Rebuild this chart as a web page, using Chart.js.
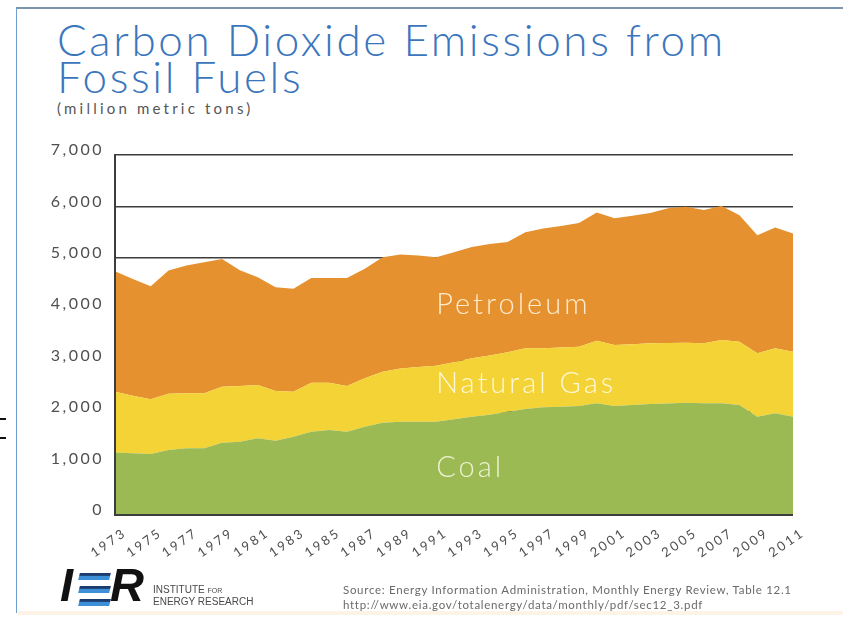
<!DOCTYPE html>
<html>
<head>
<meta charset="utf-8">
<title>Carbon Dioxide Emissions from Fossil Fuels</title>
<script src="https://cdn.jsdelivr.net/npm/chart.js@4.4.1/dist/chart.umd.min.js"></script>
<style>
  html, body { margin: 0; padding: 0; background: #fff; }
  body { width: 843px; height: 620px; position: relative; overflow: hidden; font-family: Lato, "Open Sans", sans-serif; }
  #frame { position: absolute; left: 16px; top: 7px; width: 826px; height: 604px;
           border-left: 1.5px solid #6f9fd0; border-top: 2px solid #7d96ad; border-right: 1px solid #e4eef6; }
  #foot-band { position: absolute; left: 18px; top: 611px; width: 825px; height: 4px; background: #fdf3e6; }
  #chart { position: absolute; left: 0; top: 0; }
  .title { position: absolute; left: 57px; color: #3b76bd; font-weight: 300; font-size: 44px; line-height: 44px;
           letter-spacing: 2.6px; white-space: nowrap; }
  #subtitle { position: absolute; left: 57px; top: 101px; color: #555; font-size: 15px; line-height: 15px;
              letter-spacing: 3.2px; white-space: nowrap; }
  .source { position: absolute; left: 343px; color: #6a6a6a; font-size: 11.5px; line-height: 12px; white-space: nowrap; letter-spacing: 0.7px; }
  .logo-letter { position: absolute; top: 561px; font-family: "Liberation Sans", Arial, sans-serif; font-weight: bold;
                 font-style: italic; font-size: 47px; line-height: 47px; color: #111; }
  .bar { position: absolute; left: 79px; width: 31px; height: 7px; transform: skewX(-14deg);
         background: linear-gradient(#1d3c6e 0%, #1d3c6e 35%, #3d8fd8 40%, #3d8fd8 100%); }
  .logo-text { position: absolute; left: 153px; font-family: "Liberation Sans Narrow", "Liberation Sans", Arial, sans-serif;
               color: #4a4a4a; font-size: 10px; line-height: 10px; white-space: nowrap; }
  .tick-mark { position: absolute; left: 0; width: 6px; height: 2px; background: #111; }
</style>
</head>
<body>
<div id="frame"></div>
<div id="foot-band"></div>
<div class="tick-mark" style="top:418px"></div>
<div class="tick-mark" style="top:437px"></div>

<div class="title" style="top:17px">Carbon Dioxide Emissions from</div>
<div class="title" style="top:54px">Fossil Fuels</div>
<div id="subtitle">(million metric tons)</div>

<canvas id="chart" width="843" height="620"></canvas>

<div class="logo-letter" style="left:60px">I</div>
<div class="bar" style="top:573px"></div>
<div class="bar" style="top:586px"></div>
<div class="bar" style="top:599px"></div>
<div class="logo-letter" style="left:110px">R</div>
<div class="logo-text" style="top:585px">INSTITUTE <span style="font-size:7px">FOR</span></div>
<div class="logo-text" style="top:597px">ENERGY RESEARCH</div>

<div class="source" style="top:584px">Source: Energy Information Administration, Monthly Energy Review, Table 12.1</div>
<div class="source" style="top:599px">http://www.eia.gov/totalenergy/data/monthly/pdf/sec12_3.pdf</div>

<script>
// Years on the x axis
const years = ['1973', '1974', '1975', '1976', '1977', '1978', '1979', '1980', '1981', '1982',
  '1983', '1984', '1985', '1986', '1987', '1988', '1989', '1990', '1991', '1992',
  '1993', '1994', '1995', '1996', '1997', '1998', '1999', '2000', '2001', '2002',
  '2003', '2004', '2005', '2006', '2007', '2008', '2009', '2010', '2011'];

// Emissions by fuel, million metric tons (stacked bottom to top)
const coal = [1215, 1200, 1186, 1264, 1296, 1296, 1406, 1425, 1490, 1445,
  1523, 1620, 1653, 1620, 1717, 1795, 1814, 1814, 1814, 1860,
  1911, 1950, 2009, 2060, 2094, 2105, 2119, 2171, 2119, 2140,
  2158, 2170, 2184, 2175, 2171, 2139, 1911, 1977, 1911];

const naturalGas = [1183, 1120, 1063, 1096, 1070, 1070, 1089, 1083, 1038, 966,
  875, 952, 919, 888, 941, 991, 1037, 1066, 1086, 1110,
  1136, 1150, 1154, 1180, 1146, 1150, 1154, 1219, 1186, 1180,
  1180, 1175, 1167, 1163, 1232, 1231, 1233, 1263, 1265];

const petroleum = [2342, 2270, 2201, 2395, 2484, 2549, 2485, 2252, 2097, 2019,
  2002, 2038, 2038, 2102, 2132, 2224, 2214, 2165, 2110, 2140,
  2163, 2170, 2147, 2260, 2330, 2365, 2407, 2490, 2465, 2500,
  2532, 2620, 2644, 2592, 2607, 2460, 2296, 2350, 2299];

// Y axis range
const yMin = 0;
const yMax = 7000;
const yStep = 1000;

// Where each series name sits: [text, year, value, colour]
const seriesLabels = [
  ['Petroleum', '1991', 3900, 'rgba(255, 240, 214, 0.95)'],
  ['Natural Gas', '1991', 2370, 'rgba(255, 250, 222, 0.95)'],
  ['Coal', '1991', 740, 'rgba(240, 246, 214, 0.95)']
];

const TICK_FONT = "Lato, 'Open Sans', sans-serif";

// wide letter spacing for all canvas text
const spacing = {
  id: 'spacing',
  beforeLayout(chart) { chart.ctx.letterSpacing = '2.5px'; },
  beforeDraw(chart) { chart.ctx.letterSpacing = '2.5px'; }
};

// axis lines drawn over the filled areas
const axisLines = {
  id: 'axisLines',
  afterDatasetsDraw(chart) {
    const { ctx, chartArea } = chart;
    ctx.save();
    ctx.strokeStyle = '#3d3d3d';
    ctx.lineWidth = 2;
    ctx.beginPath();
    ctx.moveTo(chartArea.left, chartArea.top - 1);
    ctx.lineTo(chartArea.left, chartArea.bottom);
    ctx.lineTo(chartArea.right, chartArea.bottom);
    ctx.stroke();
    ctx.restore();
  }
};

// fuel names written inside their bands
const bandNames = {
  id: 'bandNames',
  afterDatasetsDraw(chart) {
    const { ctx, scales } = chart;
    ctx.save();
    ctx.letterSpacing = '3px';
    ctx.font = "300 29px Lato, 'Open Sans', sans-serif";
    ctx.textAlign = 'left';
    ctx.textBaseline = 'alphabetic';
    seriesLabels.forEach(([text, year, value, color]) => {
      ctx.fillStyle = color;
      const x = scales.x.getPixelForValue(years.indexOf(year));
      const y = scales.y.getPixelForValue(value);
      ctx.fillText(text, x, y);
    });
    ctx.restore();
  }
};

const canvas = document.getElementById('chart');

const chart = new Chart(canvas, {
  type: 'line',
  data: {
    labels: years,
    datasets: [{
      label: 'Coal',
      data: coal,
      backgroundColor: 'rgb(155, 186, 84)',
      fill: 'origin'
    }, {
      label: 'Natural Gas',
      data: naturalGas,
      backgroundColor: 'rgb(243, 211, 54)',
      fill: '-1'
    }, {
      label: 'Petroleum',
      data: petroleum,
      backgroundColor: 'rgb(230, 145, 47)',
      fill: '-1'
    }]
  },
  options: {
    responsive: false,
    animation: false,
    devicePixelRatio: 1,
    elements: {
      point: { radius: 0 },
      line: { borderWidth: 0, tension: 0 }
    },
    layout: { padding: { left: 25, top: 155, right: 50, bottom: 45 } },
    plugins: {
      legend: { display: false },
      tooltip: { enabled: false }
    },
    scales: {
      x: {
        offset: false,
        grid: { display: false },
        border: { display: false },
        afterFit(scale) { scale.height = 60; },
        ticks: {
          autoSkip: false,
          minRotation: 35,
          maxRotation: 35,
          padding: 2,
          labelOffset: 10,
          color: '#4f4f4f',
          font: { family: TICK_FONT, size: 13 },
          callback: (value, i) => (i % 2 === 0 ? years[i] : '')
        }
      },
      y: {
        stacked: true,
        min: yMin,
        max: yMax,
        afterFit(scale) { scale.width = 90; },
        grid: { color: '#3d3d3d', lineWidth: 1.5, drawTicks: false },
        border: { display: false },
        ticks: {
          stepSize: yStep,
          padding: 11,
          labelOffset: -5,
          color: '#4f4f4f',
          font: { family: TICK_FONT, size: 16 },
          callback: (value) => value.toLocaleString('en-US')
        }
      }
    }
  },
  plugins: [spacing, axisLines, bandNames]
});
</script>
</body>
</html>
